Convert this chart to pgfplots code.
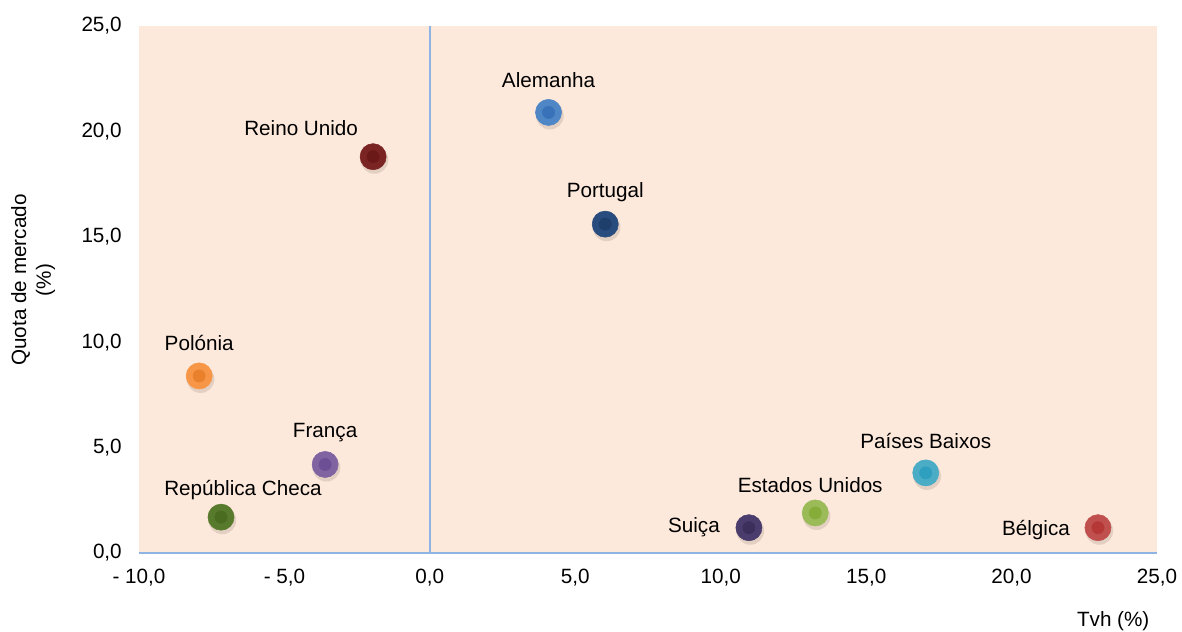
\documentclass[border=0pt]{standalone}
\usepackage{pgfplots}
\pgfplotsset{compat=1.18}
\usepackage{fontspec}
\setmainfont{Liberation Sans}
\definecolor{bgp}{HTML}{FDE9DB}
\definecolor{axl}{HTML}{8DB4E2}
\definecolor{aO}{HTML}{4F86C6}\definecolor{aI}{HTML}{3A72BA}
\definecolor{rO}{HTML}{7B2424}\definecolor{rI}{HTML}{6A1818}
\definecolor{pO}{HTML}{284C7E}\definecolor{pI}{HTML}{1E3F6C}
\definecolor{plO}{HTML}{F79646}\definecolor{plI}{HTML}{E8802C}
\definecolor{fO}{HTML}{8064A2}\definecolor{fI}{HTML}{6C4F94}
\definecolor{cO}{HTML}{587A2C}\definecolor{cI}{HTML}{4A6C20}
\definecolor{sO}{HTML}{4A3C6C}\definecolor{sI}{HTML}{3D2F5C}
\definecolor{eO}{HTML}{9BBB59}\definecolor{eI}{HTML}{86AC3A}
\definecolor{nO}{HTML}{4BACC6}\definecolor{nI}{HTML}{2F9FBF}
\definecolor{bO}{HTML}{C0504D}\definecolor{bI}{HTML}{B53836}
\definecolor{shd}{HTML}{8A7A70}
\newcommand{\ball}[7]{%
  \addplot[color=shd, only marks, mark=*, mark size=10.4pt, mark options={draw opacity=0, fill=shd, fill opacity=0.22, xshift=1.0pt, yshift=-2.4pt}] coordinates {(#1,#2)};
  \addplot[color=#3, only marks, mark=*, mark size=9.8pt, mark options={draw=#3, fill=#3}] coordinates {(#1,#2)};
  \addplot[color=#4, only marks, mark=*, mark size=4.6pt, mark options={draw=#4, fill=#4}] coordinates {(#1,#2)};
  \node[anchor=center, inner sep=0pt, xshift=#6, yshift=#7] at (axis cs:#1,#2) {#5};
}
\begin{document}
\begin{tikzpicture}[font=\fontsize{15.5}{18.5}\selectfont]
\useasboundingbox (-104.25pt,-59.25pt) rectangle (782.25pt,414.75pt);
\begin{axis}[
  at={(0,0)}, anchor=south west,
  scale only axis, width=763.5pt, height=395.25pt,
  xmin=-10, xmax=25, ymin=0, ymax=25,
  axis background/.style={fill=bgp},
  axis line style={draw=none},
  major tick length=0pt,
  xtick={-10,-5,0,5,10,15,20,25},
  xticklabels={{- 10,0},{- 5,0},{0,0},{5,0},{10,0},{15,0},{20,0},{25,0}},
  ytick={0,5,10,15,20,25},
  yticklabels={{0,0},{5,0},{10,0},{15,0},{20,0},{25,0}},
  xticklabel style={anchor=center, inner sep=0pt, yshift=-18.75pt},
  yticklabel style={anchor=east, inner sep=0pt, xshift=-12.75pt},
  ylabel={Quota de mercado\\(\%)},
  ylabel style={at={(axis description cs:-0.104,0.518)}, anchor=center, align=center},
  xlabel={Tvh (\%)},
  xlabel style={at={(axis description cs:0.957,-0.129)}, anchor=center},
  clip=false,
]
\addplot[draw=axl, line width=1pt, no marks] coordinates {(-10,0) (25,0)};
\addplot[draw=axl, line width=1pt, no marks] coordinates {(0,0) (0,25)};
\ball{4.08}{20.9}{aO}{aI}{Alemanha}{0pt}{24pt}
\ball{-1.95}{18.8}{rO}{rI}{Reino Unido}{-54pt}{21.75pt}
\ball{6.03}{15.6}{pO}{pI}{Portugal}{0pt}{24pt}
\ball{-7.93}{8.4}{plO}{plI}{Polónia}{0pt}{24.75pt}
\ball{-3.6}{4.2}{fO}{fI}{França}{0pt}{24pt}
\ball{-7.18}{1.7}{cO}{cI}{República Checa}{16.5pt}{20.25pt}
\ball{10.97}{1.2}{sO}{sI}{Suiça}{-41.25pt}{0.75pt}
\ball{13.25}{1.9}{eO}{eI}{Estados Unidos}{-3.75pt}{21pt}
\ball{17.05}{3.8}{nO}{nI}{Países Baixos}{0pt}{24pt}
\ball{22.97}{1.2}{bO}{bI}{Bélgica}{-46.5pt}{-1.5pt}
\end{axis}
\end{tikzpicture}
\end{document}
